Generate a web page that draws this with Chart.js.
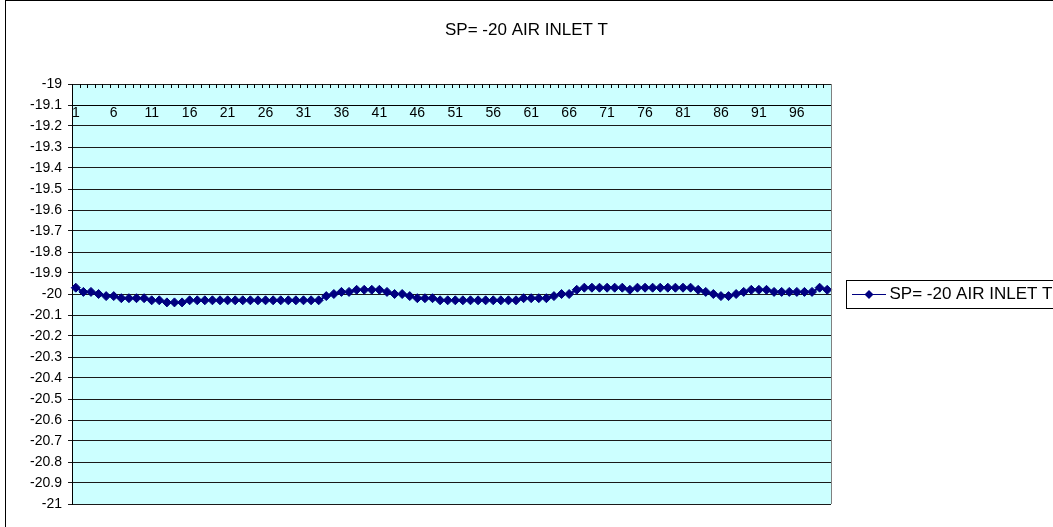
<!DOCTYPE html>
<html>
<head>
<meta charset="utf-8">
<script src="https://cdn.jsdelivr.net/npm/chart.js@4.4.0/dist/chart.umd.min.js"></script>
<style>
  html, body { margin: 0; padding: 0; background: #fff; }
</style>
</head>
<body>
<canvas id="chart" width="1053" height="527"></canvas>
<script>
// data
const seriesName = 'SP= -20 AIR INLET T';
const categories = Array.from({ length: 100 }, (_, i) => String(i + 1));
const airInlet = [
  -19.97, -19.99, -19.99, -20.00, -20.01, -20.01, -20.02, -20.02, -20.02, -20.02,
  -20.03, -20.03, -20.04, -20.04, -20.04, -20.03, -20.03, -20.03, -20.03, -20.03,
  -20.03, -20.03, -20.03, -20.03, -20.03, -20.03, -20.03, -20.03, -20.03, -20.03,
  -20.03, -20.03, -20.03, -20.01, -20.00, -19.99, -19.99, -19.98, -19.98, -19.98,
  -19.98, -19.99, -20.00, -20.00, -20.01, -20.02, -20.02, -20.02, -20.03, -20.03,
  -20.03, -20.03, -20.03, -20.03, -20.03, -20.03, -20.03, -20.03, -20.03, -20.02,
  -20.02, -20.02, -20.02, -20.01, -20.00, -20.00, -19.98, -19.97, -19.97, -19.97,
  -19.97, -19.97, -19.97, -19.98, -19.97, -19.97, -19.97, -19.97, -19.97, -19.97,
  -19.97, -19.97, -19.98, -19.99, -20.00, -20.01, -20.01, -20.00, -19.99, -19.98,
  -19.98, -19.98, -19.99, -19.99, -19.99, -19.99, -19.99, -19.99, -19.97, -19.98
];
const yTicks = [-19, -19.1, -19.2, -19.3, -19.4, -19.5, -19.6, -19.7, -19.8, -19.9, -20,
  -20.1, -20.2, -20.3, -20.4, -20.5, -20.6, -20.7, -20.8, -20.9, -21];
const xLabelEvery = 5;

const navy = '#000080';
Chart.defaults.font.family = '"Liberation Sans", Arial, sans-serif';
Chart.defaults.color = '#000';

// legend marker: short line with a diamond on it
const legendIcon = document.createElement('canvas');
legendIcon.width = 34;
legendIcon.height = 10;
(function () {
  const c = legendIcon.getContext('2d');
  c.strokeStyle = navy;
  c.lineWidth = 1;
  c.beginPath();
  c.moveTo(0, 5.5);
  c.lineTo(34, 5.5);
  c.stroke();
  c.fillStyle = navy;
  c.beginPath();
  c.moveTo(17, 1);
  c.lineTo(21.5, 5.5);
  c.lineTo(17, 10);
  c.lineTo(12.5, 5.5);
  c.closePath();
  c.fill();
})();

const excelLook = {
  id: 'excelLook',
  beforeDraw(chart) {
    const { ctx, chartArea: a } = chart;
    ctx.save();
    ctx.fillStyle = '#fff';
    ctx.fillRect(0, 0, chart.width, chart.height);
    ctx.fillStyle = '#CCFFFF';
    ctx.fillRect(a.left, a.top, a.right - a.left, a.bottom - a.top);
    ctx.restore();
  },
  afterDraw(chart) {
    const { ctx, chartArea: a } = chart;
    const xs = chart.scales.x;
    ctx.save();
    // category tick marks along the top edge
    const step = xs.getPixelForValue(1) - xs.getPixelForValue(0);
    ctx.strokeStyle = '#000';
    ctx.lineWidth = 1;
    ctx.beginPath();
    for (let i = 0; i <= categories.length; i++) {
      const x = Math.round(xs.getPixelForValue(i) - step / 2) + 0.5;
      ctx.moveTo(x, a.top);
      ctx.lineTo(x, a.top + 4);
    }
    ctx.stroke();
    // plot area right edge
    ctx.strokeStyle = '#808080';
    ctx.beginPath();
    ctx.moveTo(Math.round(a.right) + 0.5, a.top);
    ctx.lineTo(Math.round(a.right) + 0.5, a.bottom);
    ctx.stroke();
    // legend frame
    const hb = chart.legend.legendHitBoxes[0];
    if (hb) {
      const cy = Math.round(hb.top + hb.height / 2);
      ctx.strokeStyle = '#000';
      ctx.strokeRect(Math.round(hb.left) - 10.5, cy - 13.5, 400, 28);
    }
    // outer chart frame
    ctx.strokeRect(5.5, 0.5, 1200, 700);
    ctx.restore();
  }
};

new Chart(document.getElementById('chart'), {
  type: 'line',
  data: {
    labels: categories,
    datasets: [{
      label: seriesName,
      data: airInlet,
      borderColor: navy,
      backgroundColor: navy,
      borderWidth: 2,
      tension: 0,
      pointStyle: 'rectRot',
      pointRadius: 4.5,
      pointBorderWidth: 1,
      pointBackgroundColor: navy,
      pointBorderColor: navy
    }]
  },
  options: {
    responsive: false,
    animation: false,
    devicePixelRatio: 1,
    layout: { padding: { left: 0, right: 0, top: 0, bottom: 23 } },
    plugins: {
      tooltip: { enabled: false },
      title: {
        display: true,
        text: seriesName,
        color: '#000',
        font: { size: 17, weight: 'normal' },
        padding: { top: 19.8, bottom: 43.8 }
      },
      legend: {
        position: 'right',
        fullSize: false,
        maxWidth: 222,
        labels: {
          usePointStyle: true,
          pointStyleWidth: 24,
          padding: 26,
          color: '#000',
          font: { size: 17 },
          generateLabels: () => [{
            text: seriesName,
            pointStyle: legendIcon,
            fillStyle: navy,
            strokeStyle: navy,
            lineWidth: 0,
            hidden: false,
            datasetIndex: 0,
            fontColor: '#000'
          }]
        }
      }
    },
    scales: {
      x: {
        type: 'category',
        offset: true,
        position: { y: -19.1 },
        grid: { display: false },
        border: { display: true, color: '#000', width: 1 },
        ticks: {
          autoSkip: false,
          maxRotation: 0,
          minRotation: 0,
          padding: -8.4,
          color: '#000',
          font: { size: 14 },
          callback: (v, i) => (i % xLabelEvery === 0 ? categories[i] : '')
        }
      },
      y: {
        min: -21,
        max: -19,
        afterFit: s => { s.width = 72; },
        afterBuildTicks: s => { s.ticks = yTicks.map(v => ({ value: v })); },
        grid: { color: '#1a1a1a', lineWidth: 1, tickLength: 4 },
        border: { display: true, color: '#000', width: 1 },
        ticks: {
          padding: 6,
          color: '#000',
          font: { size: 14 },
          callback: v => String(v)
        }
      }
    }
  },
  plugins: [excelLook]
});
</script>
</body>
</html>
